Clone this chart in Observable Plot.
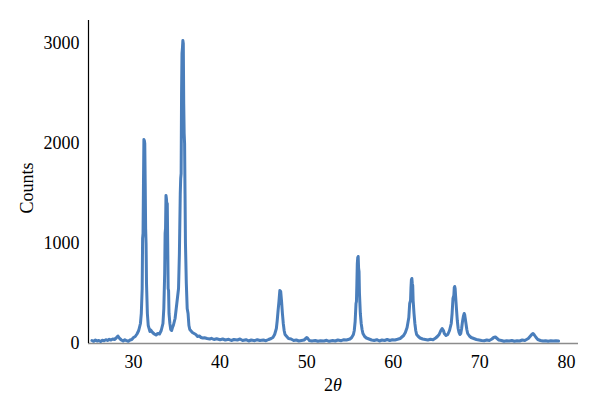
<!DOCTYPE html>
<html>
<head>
<meta charset="utf-8">
<script src="https://cdn.jsdelivr.net/npm/d3@7"></script>
<script src="https://cdn.jsdelivr.net/npm/@observablehq/plot@0.6"></script>
<style>
  html, body { margin: 0; padding: 0; background: white; }
  #chart svg { display: block; }
  #chart svg text { font-family: "Liberation Serif", "DejaVu Serif", serif; }
</style>
</head>
<body>
<div id="chart"></div>
<script>
const twoTheta = [
  25.2,25.4,25.6,25.8,26.0,26.2,26.4,26.6,26.8,27.0,27.2,27.4,27.6,27.8,28.0,28.2,28.4,28.6,28.8,29.0,29.2,29.4,29.6,29.8,30.0,
  30.2,30.4,30.6,30.8,30.9,31.0,31.05,31.1,31.15,31.2,31.25,31.3,31.35,31.4,31.45,31.5,31.6,31.7,31.8,31.9,32.0,32.2,32.4,32.6,32.8,33.0,
  33.2,33.4,33.5,33.6,33.65,33.7,33.75,33.8,33.85,33.9,33.95,34.0,34.05,34.1,34.2,34.3,34.4,34.5,34.6,34.8,
  35.0,35.2,35.3,35.4,35.45,35.5,35.55,35.6,35.65,35.7,35.75,35.8,35.85,35.9,35.95,36.0,36.05,36.1,36.2,36.3,36.4,36.5,36.6,36.8,
  37.0,37.2,37.4,37.6,37.8,38.0,38.2,38.5,38.8,39.0,39.3,39.6,40.0,40.3,40.6,41.0,41.3,41.6,42.0,42.3,42.6,43.0,43.3,43.6,44.0,44.3,44.6,45.0,45.3,45.6,45.9,
  46.1,46.3,46.5,46.6,46.7,46.8,46.9,47.0,47.1,47.2,47.3,47.4,47.5,47.7,47.9,48.2,48.5,48.8,49.1,49.4,49.7,49.9,50.0,50.1,50.3,50.6,
  51.0,51.3,51.6,52.0,52.3,52.6,53.0,53.3,53.6,54.0,54.3,54.6,55.0,55.2,55.4,55.5,55.6,55.7,55.75,55.8,55.85,55.9,55.95,56.0,56.05,56.1,56.2,56.3,56.4,56.5,56.7,56.9,
  57.2,57.5,57.8,58.1,58.4,58.7,59.0,59.3,59.6,59.9,60.2,60.5,60.8,61.0,61.2,61.4,61.6,61.8,61.9,62.0,62.05,62.1,62.15,62.2,62.25,62.3,62.4,62.5,62.6,62.7,62.9,
  63.1,63.4,63.7,64.0,64.3,64.6,64.9,65.1,65.3,65.5,65.65,65.8,65.9,66.1,66.3,66.5,66.7,66.8,66.9,67.0,67.05,67.1,67.15,67.2,67.3,67.4,67.5,67.6,67.7,67.8,67.9,
  68.0,68.1,68.2,68.25,68.3,68.4,68.5,68.6,68.8,69.0,69.3,69.6,69.9,70.2,70.5,70.8,71.1,71.4,71.6,71.8,72.0,72.2,72.5,72.8,73.1,73.4,73.7,74.0,74.3,74.6,74.9,
  75.2,75.4,75.6,75.8,76.0,76.15,76.3,76.5,76.7,77.0,77.3,77.6,77.9,78.2,78.5,78.8,79.1
];
const counts = [
  30,22,35,25,30,20,32,28,38,30,42,35,45,40,55,75,50,35,25,38,28,22,35,40,60,
  70,95,130,200,300,550,1050,1100,1600,2040,2030,2000,1600,1150,1000,600,300,180,150,120,135,110,95,85,100,95,
  130,200,350,700,1100,1150,1480,1450,1380,1400,1000,550,530,300,200,140,130,160,180,250,
  400,550,900,1500,1650,1700,2500,2900,2950,3030,3000,2400,2100,2000,1500,1000,800,600,350,300,180,140,130,110,
  100,90,70,75,60,55,58,50,45,52,40,48,38,45,35,42,30,40,35,45,30,38,25,35,28,38,30,35,28,40,50,
  60,90,150,230,330,420,530,520,420,300,200,130,90,70,50,45,30,35,25,30,35,50,60,55,30,25,
  30,22,28,25,32,22,30,25,35,28,38,35,45,60,90,130,220,400,420,600,800,860,870,750,720,500,300,200,140,100,70,55,
  45,35,30,38,25,35,30,40,30,38,35,42,50,65,80,110,160,260,400,430,560,640,650,600,580,430,300,200,130,90,70,
  55,45,40,35,42,38,55,70,90,130,150,130,100,80,90,130,200,300,450,480,560,570,550,480,350,230,150,110,90,100,150,
  220,270,300,290,260,200,140,100,75,60,50,40,35,30,28,35,30,45,60,65,50,35,30,22,28,25,30,22,28,25,35,
  30,40,50,70,90,100,85,60,40,30,25,28,22,27,24,28,25
];
const xTicks = [30, 40, 50, 60, 70, 80];
const yTicks = [0, 1000, 2000, 3000];

const data = twoTheta.map((t, i) => ({t, c: counts[i]}));
const serif = "Liberation Serif";

const chart = Plot.plot({
  width: 600,
  height: 413,
  marginLeft: 88,
  marginRight: 22,
  marginTop: 20,
  marginBottom: 70,
  style: {fontFamily: serif, fontSize: "18px", background: "white", color: "black"},
  x: {domain: [24.8, 81.4]},
  y: {domain: [0, 3230]},
  marks: [
    Plot.axisX({ticks: xTicks, tickSize: 0, tickPadding: 12, label: null, fontSize: 18, fontFamily: serif}),
    Plot.axisY({ticks: yTicks, tickSize: 0, tickPadding: 9, label: null, tickFormat: "d", fontSize: 18, fontFamily: serif}),
    Plot.ruleY([0], {stroke: "#8c8c8c", strokeWidth: 1.5}),
    Plot.ruleX([24.8], {stroke: "black", strokeWidth: 1.2}),
    Plot.line(data, {x: "t", y: "c", stroke: "#4a7ebb", strokeWidth: 3, strokeLinejoin: "round"})
  ]
});

const svg = d3.select(chart);
svg.append("text")
  .attr("transform", "translate(33,188) rotate(-90)")
  .attr("text-anchor", "middle")
  .attr("font-size", 18)
  .attr("fill", "black")
  .text("Counts");
const xl = svg.append("text")
  .attr("x", 333)
  .attr("y", 391)
  .attr("text-anchor", "middle")
  .attr("font-size", 18)
  .attr("fill", "black");
xl.append("tspan").text("2");
xl.append("tspan").attr("font-style", "italic").text("θ");

document.getElementById("chart").append(chart);
</script>
</body>
</html>
